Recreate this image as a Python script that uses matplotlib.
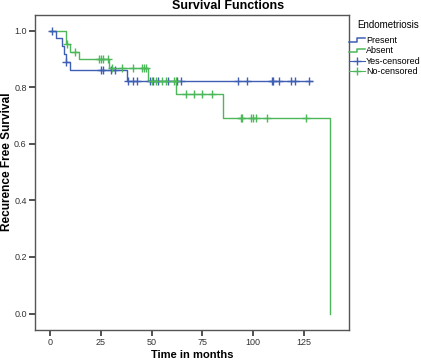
import numpy as np
import matplotlib
matplotlib.use("Agg")
import matplotlib.pyplot as plt
from matplotlib.lines import Line2D
from matplotlib.legend_handler import HandlerBase

plt.rcParams['font.family'] = ['Liberation Sans', 'DejaVu Sans']

# ---- data ----
present_times = [0, 3, 6, 7, 8, 10, 38, 129]
present_surv = [1.0, 0.972, 0.944, 0.917, 0.889, 0.861, 0.822, 0.822]
present_censor = [1, 8, 25, 26, 30, 32, 38.5, 40.7, 42.6, 49, 50.5, 53, 58,
                  62.5, 64.5, 92.8, 96.9, 109.6, 110.1, 112.8, 118.6, 120.7, 127.6]

absent_times = [0, 8, 10, 14, 29, 48, 62, 85, 138]
absent_surv = [1.0, 0.952, 0.926, 0.899, 0.867, 0.823, 0.776, 0.690, 0.0]
absent_censor = [8.5, 12, 24.2, 25.0, 26.2, 28.3, 30.3, 35.3, 40.9, 45.1, 46.2, 47.2,
                 50, 52, 55, 57, 61, 61.9, 66.8, 70.9, 74.7, 79.6,
                 94.1, 94.8, 98.9, 100.2, 101.3, 106.8, 126]

group_labels = ['Present', 'Absent']
censor_labels = ['Yes-censored', 'No-censored']
legend_title = 'Endometriosis'
chart_title = 'Survival Functions'
x_label = 'Time in months'
y_label = 'Recurence Free Survival'
x_ticks = [0, 25, 50, 75, 100, 125]
y_ticks = [0.0, 0.2, 0.4, 0.6, 0.8, 1.0]

blue = '#3f5fb4'
green = '#4cb85a'

W, H = 421, 362


def surv_at(times, surv, t):
    idx = np.searchsorted(np.asarray(times), t, side='right') - 1
    return np.asarray(surv)[idx]


fig = plt.figure(figsize=(W / 100, H / 100), dpi=100)
ax = fig.add_axes([35 / W, 1 - 330 / H, (349 - 35) / W, (330 - 15) / H])

ax.step(present_times, present_surv, where='post', color=blue, lw=1.0, zorder=3)
ax.step(absent_times, absent_surv, where='post', color=green, lw=1.0, zorder=2)
ax.plot(present_censor, surv_at(present_times, present_surv, present_censor),
        ls='none', marker='+', ms=6, mew=1.0, color=blue, zorder=4)
ax.plot(absent_censor, surv_at(absent_times, absent_surv, absent_censor),
        ls='none', marker='+', ms=6, mew=1.0, color=green, zorder=4)

ax.set_xlim(-7.5, 147.4)
ax.set_ylim(-0.058, 1.055)
ax.set_xticks(x_ticks)
ax.set_xticklabels([str(v) for v in x_ticks])
ax.set_yticks(y_ticks)
ax.set_yticklabels(['%.1f' % v for v in y_ticks])
ax.tick_params(direction='out', length=4, width=1.2, labelsize=6.5,
               colors='#333333', pad=2)
for s in ax.spines.values():
    s.set_color('#555555')
    s.set_linewidth(1.0)

fig.text(228 / W, 1 - 6 / H, chart_title, fontsize=9, fontweight='bold',
         ha='center', va='center')
fig.text(192 / W, 1 - 355 / H, x_label, fontsize=8, fontweight='bold',
         ha='center', va='center')
fig.text(7.5 / W, 1 - 162 / H, y_label, fontsize=8.6, fontweight='bold',
         ha='center', va='center', rotation=90)
fig.text(357 / W, 1 - 25 / H, legend_title, fontsize=7, ha='left', va='center')


class StepHandler(HandlerBase):
    def __init__(self, color):
        super().__init__()
        self.color = color

    def create_artists(self, legend, orig_handle, xdescent, ydescent, width,
                       height, fontsize, trans):
        x0, x1 = -xdescent, -xdescent + width
        yl, yh = -ydescent + height * 0.15, -ydescent + height * 0.75
        xm = x0 + width * 0.5
        line = Line2D([x0, xm, xm, x1], [yl, yl, yh, yh], color=self.color,
                      lw=1.1, transform=trans)
        return [line]


h_present = Line2D([], [], color=blue)
h_absent = Line2D([], [], color=green)
h_yes = Line2D([], [], color=blue, marker='+', ms=6, lw=0.8)
h_no = Line2D([], [], color=green, marker='+', ms=6, lw=0.8)
leg = fig.legend([h_present, h_absent, h_yes, h_no],
                 group_labels + censor_labels,
                 handler_map={h_present: StepHandler(blue), h_absent: StepHandler(green)},
                 loc='upper left',
                 bbox_to_anchor=(349 / W, 1 - 36 / H), frameon=False,
                 fontsize=6.5, handlelength=1.8,
                 handletextpad=0.1, labelspacing=0.15, borderpad=0.0,
                 borderaxespad=0)

fig.savefig('out.png', dpi=100)
